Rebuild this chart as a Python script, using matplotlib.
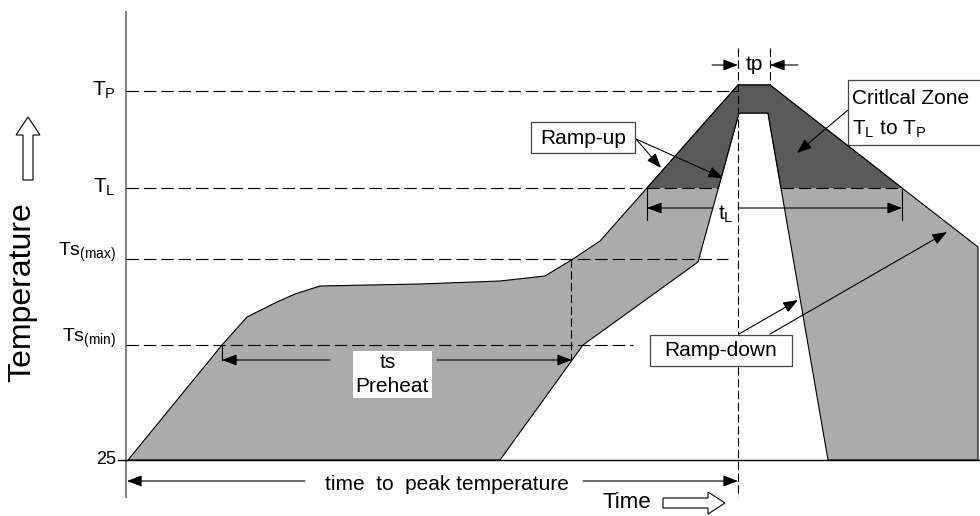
import numpy as np
import matplotlib
matplotlib.use("Agg")
import matplotlib.pyplot as plt
from matplotlib.patches import Polygon, Rectangle, FancyArrow

plt.rcParams["font.family"] = ["Liberation Sans", "DejaVu Sans"]
plt.rcParams["mathtext.fontset"] = "custom"
plt.rcParams["mathtext.rm"] = "Liberation Sans"
plt.rcParams["mathtext.it"] = "Liberation Sans:italic"
plt.rcParams["lines.scale_dashes"] = False

# 1- Temperature levels (schematic units: picture pixels, y grows downwards)
level_names = ["T$_\\mathrm{P}$", "T$_\\mathrm{L}$", "Ts$_\\mathrm{(max)}$",
               "Ts$_\\mathrm{(min)}$", "25"]
level_y = [91, 188, 259, 345, 460]
level_sizes = [15, 15, 14, 14, 13]
level_label_y = [90, 187, 252, 338, 459]

# 2- Upper (slowest allowed) and lower (fastest allowed) profile
upper_x = [128, 222, 247, 277, 295, 320, 420, 500, 545, 573, 600, 647, 738, 770, 902, 978, 978]
upper_y = [460, 345, 317, 302, 294, 286, 284, 281, 276, 259, 241, 188, 85, 85, 188, 247, 460]
lower_x = [500, 583, 698, 739, 768, 828]
lower_y = [460, 345, 262, 113, 113, 460]

# 3- Time marks
t_peak = 738      # time of peak temperature
tp_end = 770      # end of time at peak
ts_start = 222    # preheat start (upper profile at Ts(min))
ts_end = 572      # preheat end
tl_start = 647
tl_end = 902

LIGHT = "#ababab"
DARK = "#5a5a5a"

fig = plt.figure(figsize=(9.8, 5.16), dpi=100)
ax = fig.add_axes([0, 0, 1, 1])
ax.set_xlim(0, 980)
ax.set_ylim(516, 0)
ax.axis("off")

# 4- Shaded profile window
poly_x = upper_x + lower_x[::-1]
poly_y = upper_y + lower_y[::-1]
pts = np.column_stack([poly_x, poly_y])
light = Polygon(pts, closed=True, facecolor=LIGHT, edgecolor="black", lw=0.8, zorder=2)
ax.add_patch(light)
dark = Polygon(pts, closed=True, facecolor=DARK, edgecolor="black", lw=0.8, zorder=2.1)
ax.add_patch(dark)
clip = Rectangle((0, 0), 980, level_y[1], transform=ax.transData)
dark.set_clip_path(clip)

# 5- Axis and level lines
ax.plot([126, 126], [12, 497], color="#808080", lw=1.4, zorder=3)
ax.plot([118, 980], [level_y[4], level_y[4]], color="black", lw=1.0, zorder=3)

# where the inner (lower) profile crosses T_L
inner_left = np.interp(level_y[1], [lower_y[3], lower_y[2]], [lower_x[3], lower_x[2]])
inner_right = np.interp(level_y[1], [lower_y[4], lower_y[5]], [lower_x[4], lower_x[5]])

dash = dict(color="black", lw=0.8, dashes=(9, 3.5), zorder=4)
ax.plot([126, t_peak], [level_y[0]] * 2, **dash)
ax.plot([126, inner_left], [level_y[1]] * 2, **dash)
ax.plot([inner_right, tl_end], [level_y[1]] * 2, **dash)
ax.plot([126, 728], [level_y[2]] * 2, **dash)
ax.plot([126, 633], [level_y[3]] * 2, **dash)

ax.plot([t_peak, t_peak], [48, 497], color="black", lw=0.8, dashes=(6, 2.5), zorder=4)
ax.plot([tp_end, tp_end], [48, 85], color="black", lw=0.8, dashes=(6, 2.5), zorder=4)
ax.plot([ts_end - 1, ts_end - 1], [level_y[2], 360], color="black", lw=0.8, dashes=(6, 2.5), zorder=4)

for name, ly, fs in zip(level_names, level_label_y, level_sizes):
    ax.text(116, ly, name, ha="right", va="center", fontsize=fs)

# 6- Interval arrows
def arrow(x0, y0, x1, y1):
    ax.annotate("", xy=(x1, y1), xytext=(x0, y0),
                arrowprops=dict(arrowstyle="-|>,head_length=0.45,head_width=0.17",
                                mutation_scale=20, color="black", lw=0.8,
                                shrinkA=0, shrinkB=0), zorder=5)

def tick(x, y0, y1):
    ax.plot([x, x], [y0, y1], color="black", lw=0.8, zorder=5)

arrow(712, 65, t_peak, 65)
arrow(798, 65, tp_end, 65)
ax.text(754, 64, "tp", ha="center", va="center", fontsize=15)

tick(tl_start, level_y[1], 220)
tick(tl_end, level_y[1], 220)
arrow(713, 208, tl_start, 208)
arrow(t_peak, 208, tl_end, 208)
ax.text(726, 214, "t$_\\mathrm{L}$", ha="center", va="center", fontsize=15)

tick(ts_start, level_y[3], 360)
arrow(330, 360, ts_start, 360)
arrow(437, 360, ts_end, 360)
ax.add_patch(Rectangle((353, 351), 79, 47, facecolor="white", edgecolor="none", zorder=5))
ax.text(388, 363, "ts", ha="center", va="center", fontsize=15, zorder=6)
ax.text(392, 387, "Preheat", ha="center", va="center", fontsize=15, zorder=6)

arrow(305, 481, 127, 481)
arrow(583, 481, t_peak, 481)
ax.text(447, 484, "time  to  peak temperature", ha="center", va="center", fontsize=15)

# 7- Callout boxes
def box(x, y, w, h):
    ax.add_patch(Rectangle((x, y), w, h, facecolor="white", edgecolor="#444444",
                           lw=0.9, zorder=6))

box(531, 122, 104, 31)
ax.text(583, 138, "Ramp-up", ha="center", va="center", fontsize=15, zorder=7)
arrow(636, 139, 661, 168)
arrow(636, 139, 723, 178)

box(848, 80, 140, 65)
ax.text(852, 98, "Critlcal Zone", ha="left", va="center", fontsize=15, zorder=7)
ax.text(852, 129, "T$_\\mathrm{L}$ to T$_\\mathrm{P}$", ha="left", va="center", fontsize=15, zorder=7)
arrow(848, 110, 797, 153)

box(650, 335, 142, 31)
ax.text(721, 351, "Ramp-down", ha="center", va="center", fontsize=15, zorder=7)
arrow(739, 334, 798, 300)
arrow(770, 334, 947, 232)

# 8- Axis names with hollow arrows
ax.text(22, 292, "Temperature", rotation=90, ha="center", va="center", fontsize=23)
ax.add_patch(FancyArrow(28, 180, 0, -63, width=10, head_width=24, head_length=18,
                        length_includes_head=True, facecolor="white",
                        edgecolor="black", lw=0.8))
ax.text(627, 503, "Time", ha="center", va="center", fontsize=16)
ax.add_patch(FancyArrow(663, 503, 62, 0, width=10, head_width=22, head_length=17,
                        length_includes_head=True, facecolor="white",
                        edgecolor="black", lw=0.8))

fig.savefig("out.png", dpi=100)
